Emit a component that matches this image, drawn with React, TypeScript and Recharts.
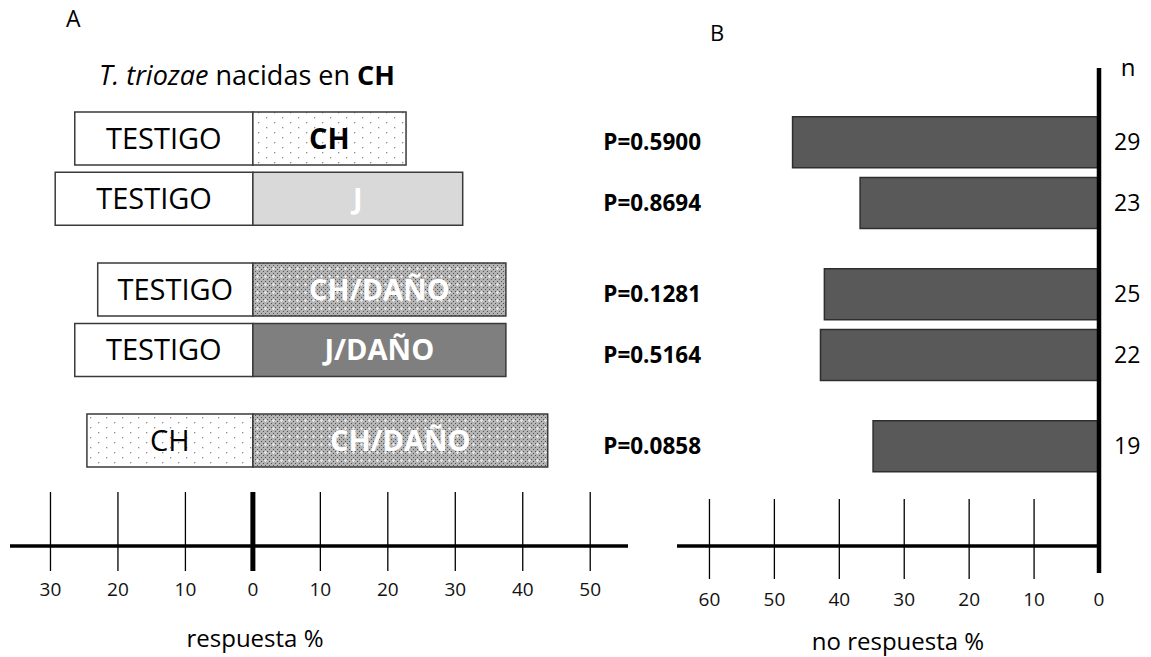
import { BarChart, Bar, XAxis, YAxis, Cell, LabelList } from 'recharts';

// comparisons, top to bottom
const comparisons = [
  'TESTIGO vs CH',
  'TESTIGO vs J',
  'TESTIGO vs CH/DAÑO',
  'TESTIGO vs J/DAÑO',
  'CH vs CH/DAÑO',
];
const leftLabels = ['TESTIGO', 'TESTIGO', 'TESTIGO', 'TESTIGO', 'CH'];
const rightLabels = ['CH', 'J', 'CH/DAÑO', 'J/DAÑO', 'CH/DAÑO'];
const leftResponse = [26.4, 29.3, 23.0, 26.4, 24.6];
const rightResponse = [22.7, 31.1, 37.5, 37.5, 43.7];
const noResponse = [47.2, 36.8, 42.3, 42.9, 34.8];
const pValues = ['P=0.5900', 'P=0.8694', 'P=0.1281', 'P=0.5164', 'P=0.0858'];
const nValues = [29, 23, 25, 22, 19];
const ticksA = [-30, -20, -10, 0, 10, 20, 30, 40, 50];
const ticksB = [0, 10, 20, 30, 40, 50, 60];

// empty rows after each comparison, gives the grouping gaps
const gapsAfter = [1, 2, 1, 2, 0];

const W = 1151;
const H = 657;
const FONT = '"Open Sans", sans-serif';

const FILLS: Record<string, string> = {
  TESTIGO: '#ffffff',
  CH: 'url(#dotsLight)',
  J: '#d9d9d9',
  'CH/DAÑO': 'url(#dotsDense)',
  'J/DAÑO': '#7f7f7f',
};

type Row = {
  name: string;
  slot: number;
  left: number;
  right: number;
  leftLabel: string;
  rightLabel: string;
  noResp: number;
  p: string;
  n: number;
};

let slotAcc = 0;
const rows: Row[] = comparisons.map((name, i) => {
  const slot = slotAcc;
  slotAcc += 1 + gapsAfter[i];
  return {
    name,
    slot,
    left: -leftResponse[i],
    right: rightResponse[i],
    leftLabel: leftLabels[i],
    rightLabel: rightLabels[i],
    noResp: noResponse[i],
    p: pValues[i],
    n: nValues[i],
  };
});
const slots = rows.map((r) => r.slot);
const bySlot = new Map(rows.map((r) => [r.slot, r]));

const barText = (pickStyle: (v: string) => { bold: boolean; color: string }) => (props: any) => {
  const vb = props.viewBox ?? props;
  const { x, y, width, height } = vb;
  const value = props.value;
  if (!value || x == null) return null;
  const s = pickStyle(String(value));
  return (
    <text
      x={x + width / 2}
      y={y + height / 2}
      dy="0.36em"
      textAnchor="middle"
      fontFamily={FONT}
      fontSize={29}
      fontWeight={s.bold ? 700 : 400}
      fill={s.color}
    >
      {value}
    </text>
  );
};

const leftText = barText(() => ({ bold: false, color: '#000' }));
const rightText = barText((v) => (v === 'CH' ? { bold: true, color: '#000' } : { bold: true, color: '#fff' }));

const TickA = (props: any) => {
  const { x, y, payload } = props;
  const zero = payload.value === 0;
  return (
    <g>
      <line x1={x} x2={x} y1={y - 54} y2={y + 25} stroke="#000" strokeWidth={zero ? 5 : 1.3} />
      <text x={x} y={y + 43} dy="0.35em" textAnchor="middle" fontFamily={FONT} fontSize={19} fill="#111">
        {Math.abs(payload.value)}
      </text>
    </g>
  );
};

const TickB = (props: any) => {
  const { x, y, payload } = props;
  const zero = payload.value === 0;
  return (
    <g>
      {zero ? (
        <line x1={x} x2={x} y1={y - 478} y2={y + 27} stroke="#000" strokeWidth={4.5} />
      ) : (
        <line x1={x} x2={x} y1={y - 47} y2={y + 33} stroke="#000" strokeWidth={1.3} />
      )}
      <text x={x} y={y + 53} dy="0.35em" textAnchor="middle" fontFamily={FONT} fontSize={19} fill="#111">
        {payload.value}
      </text>
    </g>
  );
};

// P values sit just left of panel B, n values just right of its zero line
const PTick = (props: any) => {
  const { x, y, payload } = props;
  const r = bySlot.get(payload.value);
  if (!r) return null;
  return (
    <text x={x + 24} y={y} dy="0.36em" textAnchor="end" fontFamily={FONT} fontSize={22.5} fontWeight={700} fill="#000">
      {r.p}
    </text>
  );
};

const NTick = (props: any) => {
  const { x, y, payload } = props;
  const r = bySlot.get(payload.value);
  if (!r) return null;
  return (
    <text x={x + 15} y={y} dy="0.36em" textAnchor="start" fontFamily={FONT} fontSize={23} fill="#000">
      {r.n}
    </text>
  );
};

export default function App() {
  return (
    <div style={{ position: 'absolute', left: 0, top: 0, width: W, height: H, background: '#fff' }}>
      <div style={{ position: 'absolute', left: 0, top: 0 }}>
        <BarChart
          width={W}
          height={H}
          data={rows}
          layout="vertical"
          stackOffset="sign"
          margin={{ top: 123, right: 523, bottom: 81, left: 10 }}
        >
          <defs>
            <pattern id="dotsLight" width={16} height={10} patternUnits="userSpaceOnUse">
              <rect width={16} height={10} fill="#ffffff" />
              <rect x={2} y={2} width={1.3} height={1.3} fill="#8c8c8c" />
              <rect x={10} y={7} width={1.3} height={1.3} fill="#8c8c8c" />
            </pattern>
            <pattern id="dotsDense" width={8} height={8} patternUnits="userSpaceOnUse">
              <rect width={8} height={8} fill="#b4b4b4" />
              <rect x={1} y={1} width={1} height={1} fill="#555" />
              <rect x={3} y={3} width={1} height={1} fill="#555" />
              <rect x={5} y={1} width={1} height={1} fill="#555" />
              <rect x={7} y={3} width={1} height={1} fill="#555" />
              <rect x={1} y={5} width={1} height={1} fill="#555" />
              <rect x={3} y={7} width={1} height={1} fill="#555" />
              <rect x={5} y={5} width={1} height={1} fill="#555" />
              <rect x={7} y={7} width={1} height={1} fill="#555" />
              <rect x={0} y={4} width={3} height={1} fill="#e6e6e6" />
              <rect x={1} y={3} width={1} height={3} fill="#e6e6e6" />
            </pattern>
          </defs>
          <XAxis
            type="number"
            domain={[-36, 55.6]}
            ticks={ticksA}
            height={30}
            tickSize={0}
            tickMargin={0}
            tickLine={false}
            axisLine={{ stroke: '#000', strokeWidth: 3.5 }}
            tick={<TickA />}
            interval={0}
          />
          <YAxis type="number" dataKey="slot" domain={[-0.5, 13.5]} ticks={slots} hide />
          <Bar dataKey="left" stackId="a" barSize={53} stroke="#3a3a3a" strokeWidth={1.5} isAnimationActive={false}>
            {rows.map((r) => (
              <Cell key={r.name} fill={FILLS[r.leftLabel]} />
            ))}
            <LabelList dataKey="leftLabel" content={leftText} />
          </Bar>
          <Bar dataKey="right" stackId="a" barSize={53} stroke="#3a3a3a" strokeWidth={1.5} isAnimationActive={false}>
            {rows.map((r) => (
              <Cell key={r.name} fill={FILLS[r.rightLabel]} />
            ))}
            <LabelList dataKey="rightLabel" content={rightText} />
          </Bar>
          <text x={66} y={27} fontFamily={FONT} fontSize={23} fill="#000">A</text>
          <text x={99} y={85} fontFamily={FONT} fontSize={27} fill="#000">
            <tspan fontStyle="italic">T. triozae</tspan>
            <tspan> nacidas en </tspan>
            <tspan fontWeight={700}>CH</tspan>
          </text>
          <text x={255} y={647} textAnchor="middle" fontFamily={FONT} fontSize={24} fill="#000">
            respuesta %
          </text>
        </BarChart>
      </div>
      <div style={{ position: 'absolute', left: 0, top: 0 }}>
        <BarChart
          width={W}
          height={H}
          data={rows}
          layout="vertical"
          margin={{ top: 127, right: 51, bottom: 81, left: 676 }}
        >
          <XAxis
            type="number"
            domain={[0, 65]}
            reversed
            ticks={ticksB}
            height={30}
            tickSize={0}
            tickMargin={0}
            tickLine={false}
            axisLine={{ stroke: '#000', strokeWidth: 3.5 }}
            tick={<TickB />}
            interval={0}
          />
          <YAxis
            yAxisId="p"
            type="number"
            dataKey="slot"
            domain={[-0.5, 13.29]}
            ticks={slots}
            width={1}
            axisLine={false}
            tickLine={false}
            tickSize={0}
            tickMargin={0}
            interval={0}
            tick={<PTick />}
          />
          <YAxis
            yAxisId="n"
            orientation="right"
            type="number"
            dataKey="slot"
            domain={[-0.5, 13.29]}
            ticks={slots}
            width={1}
            axisLine={false}
            tickLine={false}
            tickSize={0}
            tickMargin={0}
            interval={0}
            tick={<NTick />}
          />
          <Bar
            yAxisId="p"
            dataKey="noResp"
            barSize={51}
            fill="#595959"
            stroke="#2e2e2e"
            strokeWidth={1.5}
            isAnimationActive={false}
          />
          <text x={710} y={41} fontFamily={FONT} fontSize={22} fill="#000">B</text>
          <text x={1128} y={76} textAnchor="middle" fontFamily={FONT} fontSize={24} fill="#000">n</text>
          <text x={898} y={650} textAnchor="middle" fontFamily={FONT} fontSize={24} fill="#000">
            no respuesta %
          </text>
        </BarChart>
      </div>
    </div>
  );
}
